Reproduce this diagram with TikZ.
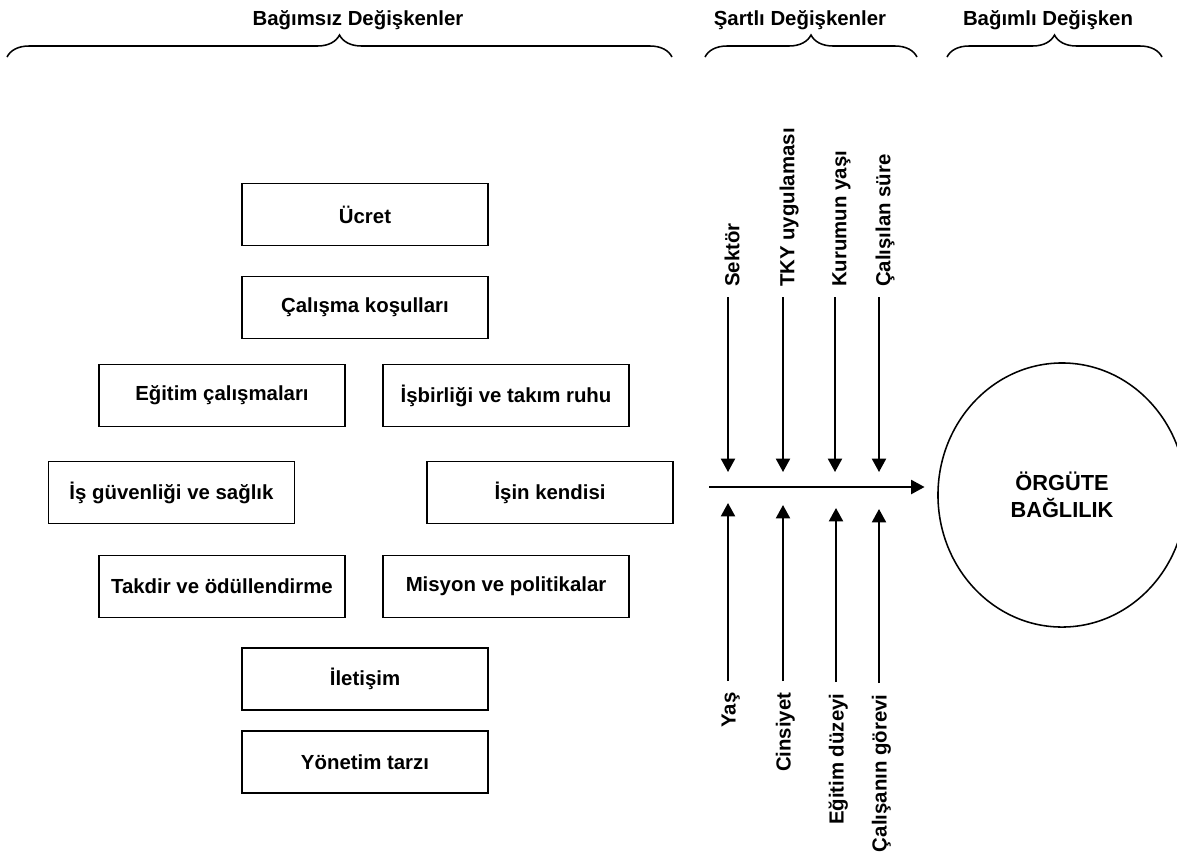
\documentclass[tikz,border=0pt]{standalone}
\usepackage{fontspec}
\setmainfont{Liberation Sans}
\usetikzlibrary{positioning,shapes.geometric,arrows.meta,decorations.pathreplacing}

\begin{document}
\begin{tikzpicture}[x=0.025cm, y=-0.025cm,
  lbl/.style={font=\fontsize{14.5}{17}\selectfont\bfseries},
  varbox/.style={lbl, draw, line width=1.1pt, outer sep=0pt, minimum width=6.15cm, minimum height=1.55cm},
  head/.style={lbl, anchor=base},
  uplabel/.style={lbl, rotate=90, anchor=west, inner sep=0pt, inner xsep=7pt, text height=16pt, text depth=0pt},
  downlabel/.style={lbl, rotate=90, anchor=east, inner sep=0pt, inner xsep=8pt, text height=11pt, text depth=0pt},
  arr/.style={-{Triangle[length=9.5pt,width=10pt]}, line width=1.3pt},
  brc/.style={decorate, decoration={brace, amplitude=0.55cm}, line width=1.1pt}]
\useasboundingbox (0,0) rectangle (1177,858);

% headings and braces
\node[head] (bagimsiz) at (358,25) {Bağımsız Değişkenler};
\node[head] (sartli) at (800,25) {Şartlı Değişkenler};
\node[head] (bagimli) at (1048,25) {Bağımlı Değişken};
\coordinate (b1a) at (7,57);   \coordinate (b1b) at (672,57);
\coordinate (b2a) at (705,57); \coordinate (b2b) at (917,57);
\coordinate (b3a) at (947,57); \coordinate (b3b) at (1162,57);
\draw[brc] (b1a) -- (b1b);
\draw[brc] (b2a) -- (b2b);
\draw[brc] (b3a) -- (b3b);

% independent variables
\node[varbox] (ucret) at (365,214.5) {Ücret};
\node[varbox, below = 0.775cm of ucret] (calisma) {Çalışma koşulları};
\node[varbox, below = 0.65cm of calisma, xshift=-3.575cm] (egitim) {Eğitim çalışmaları};
\node[varbox, right = 0.95cm of egitim] (isbirligi) {İşbirliği ve takım ruhu};
\node[varbox, below = 0.875cm of egitim, xshift=-1.2625cm] (guvenlik) {İş güvenliği ve sağlık};
\node[varbox, below = 0.875cm of isbirligi, xshift=1.1cm] (isin) {İşin kendisi};
\node[varbox, below = 0.8cm of guvenlik, xshift=1.2625cm] (takdir) {Takdir ve ödüllendirme};
\node[varbox, right = 0.95cm of takdir] (misyon) {Misyon ve politikalar};
\node[varbox, below = 0.7625cm of takdir, xshift=3.575cm] (iletisim) {İletişim};
\node[varbox, below = 0.525cm of iletisim] (yonetim) {Yönetim tarzı};

% dependent variable
\node[ellipse, draw, line width=1.1pt, minimum width=6.2cm, minimum height=6.6cm,
      align=center, font=\fontsize{15.5}{19}\selectfont\bfseries] (orgut) at (1062,495) {ÖRGÜTE\\BAĞLILIK};

% conditional variables
\node[uplabel] (sektor) at (728,297) {Sektör};
\node[uplabel] (tky) at (783,297) {TKY uygulaması};
\node[uplabel] (kurum) at (835,297) {Kurumun yaşı};
\node[uplabel] (sure) at (879,297) {Çalışılan süre};
\node[downlabel] (yas) at (728,681) {Yaş};
\node[downlabel] (cinsiyet) at (783,681) {Cinsiyet};
\node[downlabel] (egduzey) at (836,682) {Eğitim düzeyi};
\node[downlabel] (gorev) at (879,683) {Çalışanın görevi};

\coordinate (d1) at (728,472); \coordinate (d2) at (783,472);
\coordinate (d3) at (835,472); \coordinate (d4) at (879,472);
\coordinate (u1) at (728,503); \coordinate (u2) at (783,505);
\coordinate (u3) at (836,508); \coordinate (u4) at (879,509);
\coordinate (hstart) at (709,487);

\draw[arr] (sektor.west) -- (d1);
\draw[arr] (tky.west) -- (d2);
\draw[arr] (kurum.west) -- (d3);
\draw[arr] (sure.west) -- (d4);
\draw[arr] (yas.east) -- (u1);
\draw[arr] (cinsiyet.east) -- (u2);
\draw[arr] (egduzey.east) -- (u3);
\draw[arr] (gorev.east) -- (u4);
\draw[arr, shorten >=9pt] (hstart) -- (hstart -| orgut.west);
\end{tikzpicture}
\end{document}
